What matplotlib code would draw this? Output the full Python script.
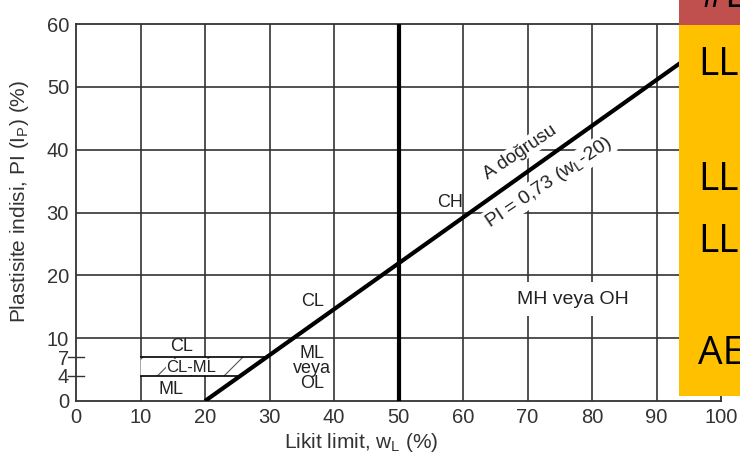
import matplotlib
matplotlib.use('Agg')
from matplotlib import pyplot as plt
from matplotlib.patches import Polygon, Rectangle
matplotlib.rcParams['font.family'] = ['Liberation Sans', 'DejaVu Sans']
matplotlib.rcParams['mathtext.default'] = 'regular'
matplotlib.rcParams['hatch.linewidth'] = 0.8

# chart data
x_ticks = [0, 10, 20, 30, 40, 50, 60, 70, 80, 90, 100]
y_ticks = [0, 4, 7, 10, 20, 30, 40, 50, 60]
x_grid = [10, 20, 30, 40, 60, 70, 80, 90]
y_grid = [10, 20, 30, 40, 50]
a_line_ll = [20, 100]
a_line_pi = [0, 58.4]
clml_ll = [10, 25.48, 29.59, 10]
clml_pi = [4, 4, 7, 7]
zone_text = ['CL', 'ML', 'ML\nveya\nOL', 'CL', 'CH']
zone_x = [16.4, 14.8, 36.6, 36.6, 58.0]
zone_y = [8.6, 1.8, 5.2, 15.8, 31.6]
side_text = ['LL', 'LL', 'LL', 'AE']
side_y = [65, 180, 242, 354]

fig = plt.figure(figsize=(7.4, 4.62), dpi=100)
ax = fig.add_axes([76 / 740, 1 - 401 / 462, 645 / 740, 377 / 462])
ax.set_xlim(0, 100)
ax.set_ylim(0, 60)

for g in x_grid:
    ax.axvline(g, color='#333333', lw=1.2, zorder=1)
for g in y_grid:
    ax.axhline(g, color='#333333', lw=1.2, zorder=1)
ax.axvline(50, color='black', lw=3, zorder=3)

# CL-ML band
ax.add_patch(Polygon(list(zip(clml_ll, clml_pi)), closed=True, facecolor='white',
                     edgecolor='#555555', hatch='/', lw=0, zorder=2))
ax.text(17.8, 5.4, 'CL-ML', ha='center', va='center', fontsize=12, color='#222222',
        bbox=dict(facecolor='white', edgecolor='none', pad=0.3), zorder=5)
ax.plot(clml_ll[:2], clml_pi[:2], color='black', lw=1.2, zorder=6)
ax.plot(clml_ll[2:], clml_pi[2:], color='black', lw=1.2, zorder=6)

ax.plot(a_line_ll, a_line_pi, color='black', lw=3, zorder=7, solid_capstyle='butt')

for t, x, y in zip(zone_text, zone_x, zone_y):
    ax.text(x, y, t, ha='center', va='center', fontsize=13, color='#222222',
            linespacing=0.85, zorder=5)

ax.text(77.0, 16.2, 'MH veya OH', ha='center', va='center', fontsize=14,
        color='#222222', zorder=5,
        bbox=dict(facecolor='white', edgecolor='none', pad=6))
ax.text(68.8, 39.6, 'A doğrusu', rotation=34, rotation_mode='anchor', ha='center',
        va='center', fontsize=13.5, color='#222222', zorder=5,
        bbox=dict(facecolor='white', edgecolor='none', pad=1))
ax.text(73.3, 34.8, 'PI = 0,73 (w$_L$-20)', rotation=34, rotation_mode='anchor',
        ha='center', va='center', fontsize=14, color='#222222', zorder=5,
        bbox=dict(facecolor='white', edgecolor='none', pad=1))

ax.set_xticks(x_ticks)
ax.set_yticks(y_ticks)
ax.tick_params(axis='x', length=0, labelsize=14.5, pad=5, colors='#333333')
ax.tick_params(axis='y', length=0, labelsize=14.5, pad=5, colors='#333333')
ax.axhline(4, xmin=-0.012, xmax=0.012, color='#333333', lw=1, clip_on=False)
ax.axhline(7, xmin=-0.012, xmax=0.012, color='#333333', lw=1, clip_on=False)
for s in ax.spines.values():
    s.set_linewidth(1.3)
    s.set_color('#333333')

ax.set_xlabel('Likit limit, w$_L$ (%)', fontsize=15, color='#333333')
ax.xaxis.set_label_coords(0.443, -0.08)
ax.set_ylabel('Plastisite indisi, PI (I$_P$) (%)', fontsize=15, color='#333333')
ax.yaxis.set_label_coords(-0.07, 0.53)

# slide overlay on the right
fig.patches.append(Rectangle((679 / 740, 1 - 25 / 462), 61 / 740, 25 / 462,
                             transform=fig.transFigure, facecolor='#C0504D',
                             edgecolor='none', zorder=10))
fig.patches.append(Rectangle((679 / 740, 1 - 396 / 462), 61 / 740, 371 / 462,
                             transform=fig.transFigure, facecolor='#FFC000',
                             edgecolor='none', zorder=10))
fig.text(700 / 740, 1 + 3 / 462, '#E', fontsize=28, va='center', ha='left',
         color='black', family=['Open Sans'], zorder=11)
for t, y in zip(side_text, side_y):
    fig.text(698 / 740, 1 - y / 462, t, fontsize=28, va='center', ha='left',
             color='black', family=['Open Sans'], zorder=11)

plt.savefig('out.png', dpi=100)
